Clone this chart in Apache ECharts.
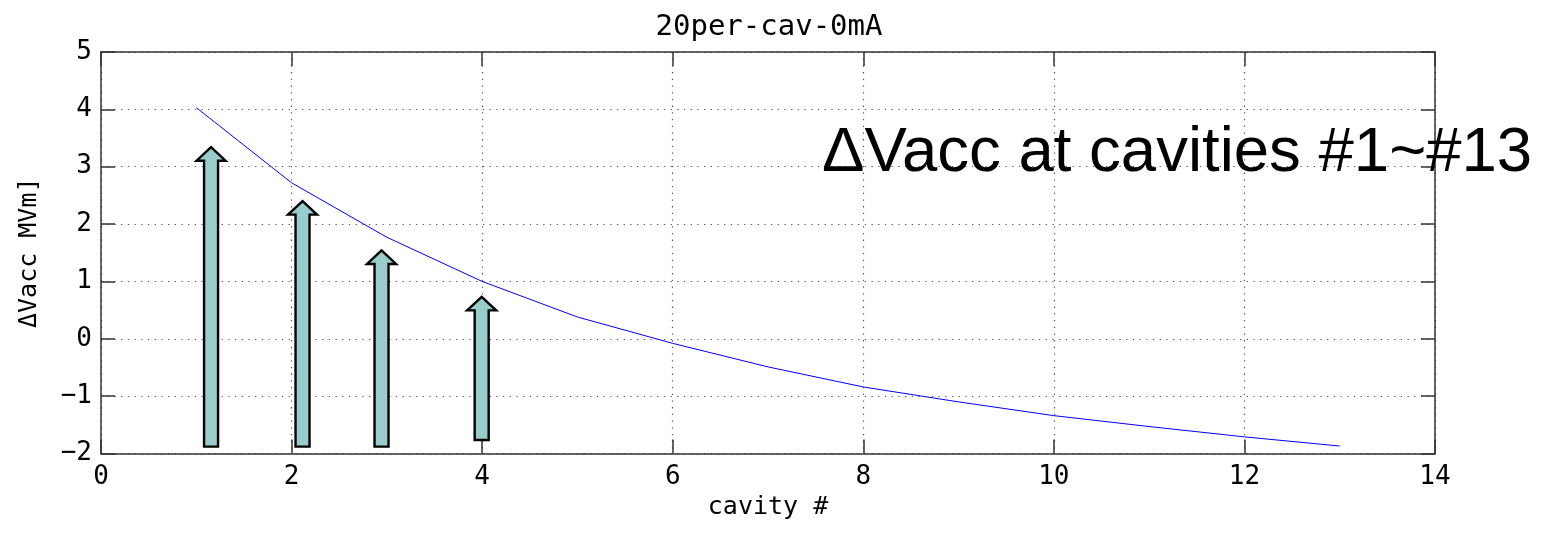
<!DOCTYPE html>
<html>
<head>
<meta charset="utf-8">
<title>20per-cav-0mA</title>
<script src="https://cdn.jsdelivr.net/npm/echarts@6/dist/echarts.min.js"></script>
<style>
  html, body { margin: 0; padding: 0; background: #ffffff; }
  #chart { width: 1543px; height: 533px; }
</style>
</head>
<body>
<div id="chart"></div>
<script>
// Cavity index and accelerating-voltage change along the string
const cavities = [1, 2, 3, 4, 5, 6, 7, 8, 9, 10, 11, 12, 13];
const deltaVacc = [4.03, 2.72, 1.77, 1.00, 0.38, -0.08, -0.49, -0.84, -1.10, -1.34, -1.53, -1.71, -1.87];

// Upward arrows marking the first four cavities: x position, base and tip values
const arrowX = [1.155, 2.115, 2.944, 3.995];
const arrowBase = [-1.88, -1.88, -1.88, -1.765];
const arrowTip = [3.34, 2.40, 1.54, 0.73];

const titleText = '20per-cav-0mA';
const xName = 'cavity #';
const yName = '\u0394Vacc MVm]';
const noteText = '\u0394Vacc at cavities #1~#13';

const monoFont = '"DejaVu Sans Mono", monospace';
const ink = '#000000';
const frame = '#333333';

const chart = echarts.init(document.getElementById('chart'), null, { renderer: 'canvas' });

const minusFmt = v => String(v).replace('-', '\u2212');

const gridDots = { show: true, lineStyle: { color: '#555555', width: 1.2, type: [1.3, 5.4] } };

const option = {
  animation: false,
  backgroundColor: '#ffffff',
  title: {
    text: titleText,
    left: 764, top: 8, textAlign: 'center',
    textStyle: { fontFamily: monoFont, fontSize: 29, fontWeight: 'normal', color: ink }
  },
  grid: { left: 101, right: 108, top: 52, bottom: 79.5, outerBoundsMode: 'none', containLabel: false },
  xAxis: [
    {
      type: 'value', min: 0, max: 14, interval: 2,
      name: xName, nameLocation: 'middle', nameGap: 36,
      nameTextStyle: { fontFamily: monoFont, fontSize: 25, color: ink },
      axisLine: { show: true, onZero: false, lineStyle: { color: frame, width: 1.5 } },
      axisTick: { show: true, inside: true, length: 14, lineStyle: { color: frame, width: 1.5 } },
      axisLabel: { fontFamily: monoFont, fontSize: 26, color: ink, margin: 11, formatter: minusFmt },
      splitLine: gridDots
    },
    {
      type: 'value', min: 0, max: 14, interval: 2, position: 'top',
      axisLine: { show: true, onZero: false, lineStyle: { color: frame, width: 1.5 } },
      axisTick: { show: true, inside: true, length: 14, lineStyle: { color: frame, width: 1.5 } },
      axisLabel: { show: false }, splitLine: { show: false }
    }
  ],
  yAxis: [
    {
      type: 'value', min: -2, max: 5, interval: 1,
      name: yName, nameLocation: 'middle', nameGap: 59, nameRotate: 90,
      nameTextStyle: { fontFamily: monoFont, fontSize: 25, color: ink },
      axisLine: { show: true, onZero: false, lineStyle: { color: frame, width: 1.5 } },
      axisTick: { show: true, inside: true, length: 14, lineStyle: { color: frame, width: 1.5 } },
      axisLabel: { fontFamily: monoFont, fontSize: 26, color: ink, margin: 9, formatter: minusFmt },
      splitLine: gridDots
    },
    {
      type: 'value', min: -2, max: 5, interval: 1, position: 'right',
      axisLine: { show: true, onZero: false, lineStyle: { color: frame, width: 1.5 } },
      axisTick: { show: true, inside: true, length: 14, lineStyle: { color: frame, width: 1.5 } },
      axisLabel: { show: false }, splitLine: { show: false }
    }
  ],
  series: [
    {
      type: 'custom',
      name: 'arrows',
      xAxisIndex: 0, yAxisIndex: 0,
      z: 3,
      data: arrowX.map((x, i) => [x, arrowBase[i], arrowTip[i]]),
      renderItem: function (params, api) {
        const base = api.coord([api.value(0), api.value(1)]);
        const tip = api.coord([api.value(0), api.value(2)]);
        const cx = base[0];
        const shaft = 7, head = 14.5, headH = 13.5;
        const yh = tip[1] + headH;
        return {
          type: 'polygon',
          shape: {
            points: [
              [cx - shaft, base[1]], [cx - shaft, yh], [cx - head, yh],
              [cx, tip[1]],
              [cx + head, yh], [cx + shaft, yh], [cx + shaft, base[1]]
            ]
          },
          style: { fill: '#99cdcb', stroke: '#000000', lineWidth: 2.4, lineJoin: 'miter' }
        };
      }
    },
    {
      type: 'line',
      name: 'deltaVacc',
      xAxisIndex: 0, yAxisIndex: 0,
      z: 4,
      data: cavities.map((c, i) => [c, deltaVacc[i]]),
      showSymbol: false,
      symbol: 'none',
      lineStyle: { color: '#0000ff', width: 1 }
    }
  ],
  graphic: [
    {
      type: 'text',
      left: 822, top: 121,
      z: 10,
      style: {
        text: noteText,
        font: 'normal 63.5px "Liberation Sans", Arial, sans-serif',
        fill: '#000000'
      }
    }
  ]
};

chart.setOption(option);
</script>
</body>
</html>
